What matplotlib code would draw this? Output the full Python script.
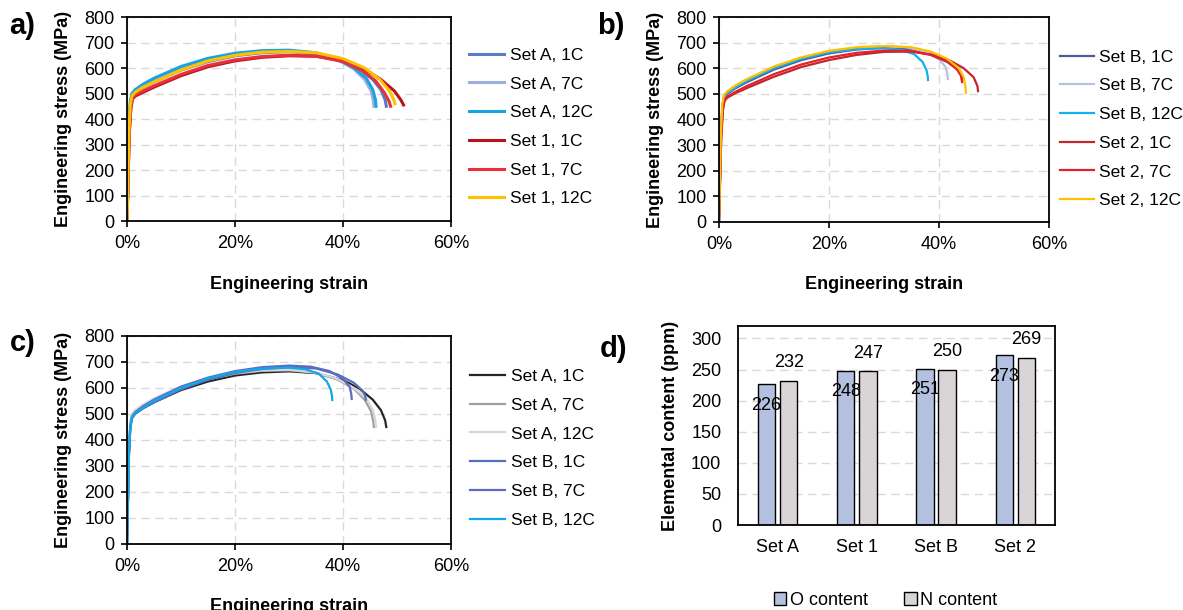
import matplotlib.pyplot as plt
from matplotlib.ticker import PercentFormatter

plt.rcParams['font.family'] = ['Liberation Sans', 'DejaVu Sans']
plt.rcParams['font.size'] = 13

# tensile curves, strain in %, stress in MPa
setA_1C_e = [0, .35, .6, .9, 1.5, 3, 5, 10, 15, 20, 25, 30, 35, 40, 43, 45.5, 47, 47.8, 48.0]
setA_1C_s = [0, 350, 450, 488, 503, 523, 545, 592, 625, 648, 660, 664, 657, 630, 598, 555, 515, 475, 450]
setA_7C_e = [0, .35, .6, .9, 1.5, 3, 5, 10, 15, 20, 25, 30, 35, 39, 42, 44, 45.2, 45.6, 45.7]
setA_7C_s = [0, 360, 460, 495, 510, 530, 553, 600, 633, 655, 666, 668, 658, 632, 597, 555, 510, 470, 450]
setA_12C_e = [0, .35, .6, .9, 1.5, 3, 5, 10, 15, 20, 25, 30, 35, 39, 42, 44.3, 45.5, 46.0, 46.1]
setA_12C_s = [0, 370, 470, 500, 515, 537, 560, 606, 638, 658, 668, 670, 660, 635, 600, 560, 515, 475, 450]

set1_1C_e = [0, .4, .7, 1.0, 1.5, 3, 5, 10, 15, 20, 25, 30, 35, 40, 44, 47, 49.5, 50.7, 51.2]
set1_1C_s = [0, 340, 440, 478, 490, 505, 525, 570, 605, 628, 642, 648, 646, 628, 595, 555, 510, 475, 455]
set1_7C_e = [0, .4, .7, 1.0, 1.5, 3, 5, 10, 15, 20, 25, 30, 35, 40, 43.5, 46, 47.6, 48.5, 48.8]
set1_7C_s = [0, 340, 445, 482, 495, 510, 530, 575, 610, 632, 645, 650, 647, 625, 590, 550, 505, 470, 450]
set1_12C_e = [0, .35, .6, .9, 1.5, 3, 5, 10, 15, 20, 25, 30, 35, 40, 44, 46.8, 48.6, 49.4, 49.6]
set1_12C_s = [0, 355, 455, 490, 505, 525, 545, 592, 628, 650, 662, 665, 660, 637, 600, 555, 510, 475, 460]

setB_1C_e = [0, .35, .6, .9, 1.5, 3, 5, 10, 15, 20, 25, 30, 35, 39, 42, 43.6, 44.1, 44.2]
setB_1C_s = [0, 340, 445, 482, 500, 522, 545, 595, 632, 658, 673, 680, 675, 652, 620, 590, 570, 555]
setB_7C_e = [0, .35, .6, .9, 1.5, 3, 5, 10, 15, 20, 25, 30, 34, 37.5, 40, 41.2, 41.5, 41.6]
setB_7C_s = [0, 350, 455, 490, 507, 530, 555, 605, 640, 665, 680, 686, 682, 665, 635, 605, 580, 558]
setB_12C_e = [0, .35, .6, .9, 1.5, 3, 5, 10, 15, 20, 25, 30, 33, 35.5, 37, 37.7, 37.95, 38.0]
setB_12C_s = [0, 345, 450, 487, 503, 525, 550, 600, 637, 662, 675, 678, 672, 655, 625, 595, 570, 554]

set2_1C_e = [0, .4, .7, 1.0, 1.5, 3, 5, 10, 15, 20, 25, 30, 35, 39, 42, 44.5, 46.3, 47.0, 47.1]
set2_1C_s = [0, 330, 435, 472, 485, 503, 522, 567, 605, 632, 652, 664, 665, 652, 630, 600, 565, 530, 511]
set2_7C_e = [0, .4, .7, 1.0, 1.5, 3, 5, 10, 15, 20, 25, 30, 35, 38.5, 41.5, 43.3, 44.0, 44.2]
set2_7C_s = [0, 335, 440, 477, 490, 508, 530, 577, 615, 642, 660, 669, 667, 652, 625, 595, 570, 546]
set2_12C_e = [0, .35, .6, .9, 1.5, 3, 5, 10, 15, 20, 25, 30, 35, 38.5, 41.5, 43.6, 44.5, 44.8, 44.9]
set2_12C_s = [0, 355, 460, 495, 510, 533, 557, 607, 643, 668, 682, 687, 682, 665, 637, 600, 565, 530, 503]

# panel d
sets = ['Set A', 'Set 1', 'Set B', 'Set 2']
o_content = [226, 248, 251, 273]
n_content = [232, 247, 250, 269]

panel_a = [
    (setA_1C_e, setA_1C_s, 'Set A, 1C', '#5B7BC8'),
    (setA_7C_e, setA_7C_s, 'Set A, 7C', '#9DB0DD'),
    (setA_12C_e, setA_12C_s, 'Set A, 12C', '#1AA3E0'),
    (set1_1C_e, set1_1C_s, 'Set 1, 1C', '#B8121F'),
    (set1_7C_e, set1_7C_s, 'Set 1, 7C', '#E8303A'),
    (set1_12C_e, set1_12C_s, 'Set 1, 12C', '#FFC000'),
]
panel_b = [
    (setB_1C_e, setB_1C_s, 'Set B, 1C', '#4A5A9A'),
    (setB_7C_e, setB_7C_s, 'Set B, 7C', '#B7C2E2'),
    (setB_12C_e, setB_12C_s, 'Set B, 12C', '#12B0EC'),
    (set2_1C_e, set2_1C_s, 'Set 2, 1C', '#C0282E'),
    (set2_7C_e, set2_7C_s, 'Set 2, 7C', '#E4202C'),
    (set2_12C_e, set2_12C_s, 'Set 2, 12C', '#FFC000'),
]
panel_c = [
    (setA_1C_e, setA_1C_s, 'Set A, 1C', '#262626'),
    (setA_7C_e, setA_7C_s, 'Set A, 7C', '#A0A0A0'),
    (setA_12C_e, setA_12C_s, 'Set A, 12C', '#D6D6D6'),
    (setB_1C_e, setB_1C_s, 'Set B, 1C', '#5470C0'),
    (setB_7C_e, setB_7C_s, 'Set B, 7C', '#5C6BC6'),
    (setB_12C_e, setB_12C_s, 'Set B, 12C', '#10A8E8'),
]

fig = plt.figure(figsize=(11.83, 6.10), dpi=100)
ax_a = fig.add_axes([0.1074, 0.6377, 0.2739, 0.3344])
ax_b = fig.add_axes([0.6078, 0.6361, 0.2789, 0.3360])
ax_c = fig.add_axes([0.1074, 0.1082, 0.2739, 0.3410])
ax_d = fig.add_axes([0.6238, 0.1393, 0.2680, 0.3262])

grid_kw = dict(color='#D9D9D9', linestyle=(0, (6, 4)), linewidth=1.0)


def curve_panel(ax, curves, lw, leg_x, leg_y, hl):
    for e, s, lab, col in curves:
        ax.plot(e, s, color=col, lw=lw, label=lab)
    ax.set_xlim(0, 60)
    ax.set_ylim(0, 800)
    ax.set_xticks([0, 20, 40, 60])
    ax.set_yticks(range(0, 801, 100))
    ax.xaxis.set_major_formatter(PercentFormatter(decimals=0))
    ax.grid(True, **grid_kw)
    ax.set_axisbelow(True)
    for sp in ax.spines.values():
        sp.set_linewidth(1.3)
    ax.tick_params(direction='out', length=4, width=1.2, labelsize=13)
    ax.tick_params(axis='x', pad=6)
    ax.tick_params(axis='y', pad=5)
    ax.set_xlabel('Engineering strain', fontweight='bold', fontsize=13, labelpad=17)
    ax.set_ylabel('Engineering stress (MPa)', fontweight='bold', fontsize=13, labelpad=9)
    ax.legend(loc='center left', bbox_to_anchor=(leg_x, leg_y), frameon=False,
              borderaxespad=0, borderpad=0, handlelength=hl, handletextpad=0.33,
              labelspacing=0.78, fontsize=12.5)


curve_panel(ax_a, panel_a, 2.2, 1.056, 0.461, 2.0)
curve_panel(ax_b, panel_b, 1.6, 1.033, 0.454, 1.95)
curve_panel(ax_c, panel_c, 1.6, 1.059, 0.46, 2.0)

# panel d bars
x = range(len(sets))
w = 0.22
xo = [i - 0.14 for i in x]
xn = [i + 0.14 for i in x]
ax_d.bar(xo, o_content, w, color='#B4C0E0', edgecolor='black', linewidth=1.0, label='O content')
ax_d.bar(xn, n_content, w, color='#D9D4D8', edgecolor='black', linewidth=1.0, label='N content')
for xi, v in zip(xo, o_content):
    ax_d.annotate(str(v), (xi, v), xytext=(0, -15), textcoords='offset points',
                  ha='center', va='center', fontsize=13)
for xi, v in zip(xn, n_content):
    ax_d.annotate(str(v), (xi, v), xytext=(0, 13), textcoords='offset points',
                  ha='center', va='center', fontsize=13)
ax_d.set_xlim(-0.5, 3.5)
ax_d.set_ylim(0, 320)
ax_d.set_yticks(range(0, 301, 50))
ax_d.set_xticks(list(x))
ax_d.set_xticklabels(sets)
ax_d.yaxis.grid(True, **grid_kw)
ax_d.set_axisbelow(True)
for sp in ax_d.spines.values():
    sp.set_linewidth(1.3)
ax_d.tick_params(axis='x', length=0, pad=10, labelsize=13)
ax_d.tick_params(axis='y', length=0, pad=12, labelsize=13)
ax_d.set_ylabel('Elemental content (ppm)', fontweight='bold', fontsize=13, labelpad=9)
ax_d.legend(loc='upper center', bbox_to_anchor=(0.465, -0.255), ncol=2, frameon=False,
            handlelength=0.7, handleheight=0.7, handletextpad=0.2, columnspacing=2.0,
            fontsize=13)

fig.text(0.008, 0.958, 'a)', fontsize=21, fontweight='bold', va='center')
fig.text(0.505, 0.958, 'b)', fontsize=21, fontweight='bold', va='center')
fig.text(0.008, 0.437, 'c)', fontsize=21, fontweight='bold', va='center')
fig.text(0.507, 0.428, 'd)', fontsize=21, fontweight='bold', va='center')

fig.savefig('out.png', dpi=100)
